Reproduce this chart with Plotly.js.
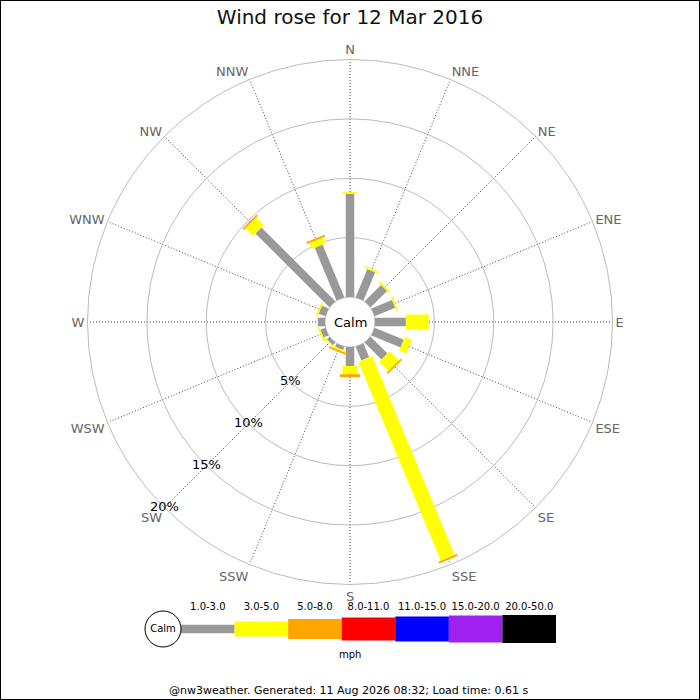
<!DOCTYPE html>
<html>
<head>
<meta charset="utf-8">
<script src="https://cdn.plot.ly/plotly-3.0.1.min.js"></script>
<style>
  html, body { margin: 0; padding: 0; background: #fff; }
  #chart { width: 700px; height: 700px; }
</style>
</head>
<body>
<div id="chart"></div>
<script>
// ---- data ----
const directions = ['N','NNE','NE','ENE','E','ESE','SE','SSE','S','SSW','SW','WSW','W','WNW','NW','NNW'];
const bandLabels = ['1.0-3.0','3.0-5.0','5.0-8.0','8.0-11.0','11.0-15.0','15.0-20.0','20.0-50.0'];
const bandColors = ['#999999','#ffff00','#ffa500','#ff0000','#0000ff','#a020f0','#000000'];
const bandWidths = [8.5, 15, 20, 23, 25, 27, 28];
// percentage of time per direction for each speed band (mph)
const band1to3  = [8.7, 2.57, 1.95, 1.87, 2.6, 2.65, 2.0, 1.25, 1.6, 0.3, 0.3, 0.45, 0.6, 0.6, 8.8, 4.8];
const band3to5  = [0.15, 0.17, 0.15, 0.15, 1.92, 0.65, 1.1, 18.15, 0.7, 0.15, 0.12, 0.15, 0, 0.15, 0.9, 0.55];
const band5to8  = [0, 0, 0, 0, 0, 0, 0.15, 0.15, 0.25, 0.15, 0, 0, 0, 0, 0.15, 0.15];
const bands = [band1to3, band3to5, band5to8];
const radialTicks = [5, 10, 15, 20];
const radialTickLabels = ['5%', '10%', '15%', '20%'];
const titleText = 'Wind rose for 12 Mar 2016';
const unitText = 'mph';
const footerText = '@nw3weather. Generated: 11 Aug 2026 08:32; Load time: 0.61 s';

// ---- build traces ----
const FONT = 'DejaVu Sans, Verdana, sans-serif';
const traces = [];
const cum = directions.map(() => 0);
bands.forEach((vals, b) => {
  const r = [], theta = [];
  vals.forEach((v, i) => {
    if (v > 0) {
      r.push(cum[i], cum[i] + v, null);
      theta.push(directions[i], directions[i], null);
    }
    cum[i] += v;
  });
  traces.push({
    type: 'scatterpolar', mode: 'lines', r: r, theta: theta,
    connectgaps: false, hoverinfo: 'skip',
    line: { color: bandColors[b], width: bandWidths[b] }
  });
});
// radial tick labels along SW
traces.push({
  type: 'scatterpolar', mode: 'text',
  r: radialTicks, theta: radialTicks.map(() => 'SW'),
  text: radialTickLabels, textposition: 'middle center',
  textfont: { family: FONT, size: 13, color: '#000' },
  cliponaxis: false, hoverinfo: 'skip'
});

// legend bar (cartesian subplot)
bandLabels.forEach((lab, k) => {
  traces.push({
    type: 'scatter', mode: 'lines', x: [k, k + 1], y: [0, 0],
    xaxis: 'x', yaxis: 'y', hoverinfo: 'skip',
    line: { color: bandColors[k], width: bandWidths[k] }
  });
});
const calmLegendX = -0.336;
traces.push({
  type: 'scatter', mode: 'markers+text', x: [calmLegendX], y: [0],
  text: ['Calm'], textposition: 'middle center',
  textfont: { family: FONT, size: 10, color: '#000' },
  marker: { size: 36, color: '#fff', line: { color: '#000', width: 1 } },
  cliponaxis: false, hoverinfo: 'skip'
});

const layout = {
  width: 700, height: 700,
  margin: { l: 0, r: 0, t: 0, b: 0 },
  paper_bgcolor: '#fff',
  showlegend: false,
  font: { family: FONT, color: '#000' },
  title: {
    text: titleText, x: 0.5, xanchor: 'center',
    y: 1 - 17 / 700, yanchor: 'middle', yref: 'container',
    font: { family: FONT, size: 20, color: '#111' }
  },
  polar: {
    domain: { x: [87.5 / 700, 612.5 / 700], y: [115.5 / 700, 640.5 / 700] },
    bgcolor: '#fff',
    hole: 25 / 262.5,
    radialaxis: {
      range: [0, 20], tickvals: radialTicks, showticklabels: false,
      ticks: '', showline: false, angle: 225,
      gridcolor: '#bbbbbb', gridwidth: 1, layer: 'below traces'
    },
    angularaxis: {
      type: 'category', categoryarray: directions,
      direction: 'clockwise', rotation: 90,
      showline: true, linecolor: '#bbbbbb', linewidth: 1,
      gridcolor: '#444444', griddash: '1px,2px', gridwidth: 1,
      ticks: '', layer: 'below traces',
      tickfont: { family: FONT, size: 13, color: '#666' }
    }
  },
  xaxis: {
    domain: [143.5 / 700, 556 / 700], range: [-0.7, 7],
    side: 'top', tickvals: bandLabels.map((_, k) => k + 0.5), ticktext: bandLabels,
    ticks: '', showgrid: false, zeroline: false, showline: false, fixedrange: true,
    tickfont: { family: FONT, size: 10, color: '#000' }
  },
  yaxis: {
    domain: [(71 - 16) / 700, (71 + 16) / 700], range: [-1, 1],
    visible: false, fixedrange: true
  },
  annotations: [
    { text: 'Calm', xref: 'paper', yref: 'paper', x: 0.5, y: 378 / 700,
      xanchor: 'center', yanchor: 'middle', showarrow: false,
      font: { family: FONT, size: 13, color: '#000' } },
    { text: unitText, xref: 'paper', yref: 'paper', x: 0.5, y: 46 / 700,
      xanchor: 'center', yanchor: 'middle', showarrow: false,
      font: { family: FONT, size: 10, color: '#000' } },
    { text: footerText, xref: 'paper', yref: 'paper', x: 348 / 700, y: 10 / 700,
      xanchor: 'center', yanchor: 'middle', showarrow: false,
      font: { family: FONT, size: 11, color: '#000' } }
  ],
  shapes: [
    { type: 'rect', xref: 'paper', yref: 'paper', x0: 0, x1: 1, y0: 0, y1: 1,
      line: { color: '#000', width: 2 }, fillcolor: 'rgba(0,0,0,0)' }
  ]
};

Plotly.newPlot('chart', traces, layout, { staticPlot: true, displayModeBar: false });
</script>
</body>
</html>
